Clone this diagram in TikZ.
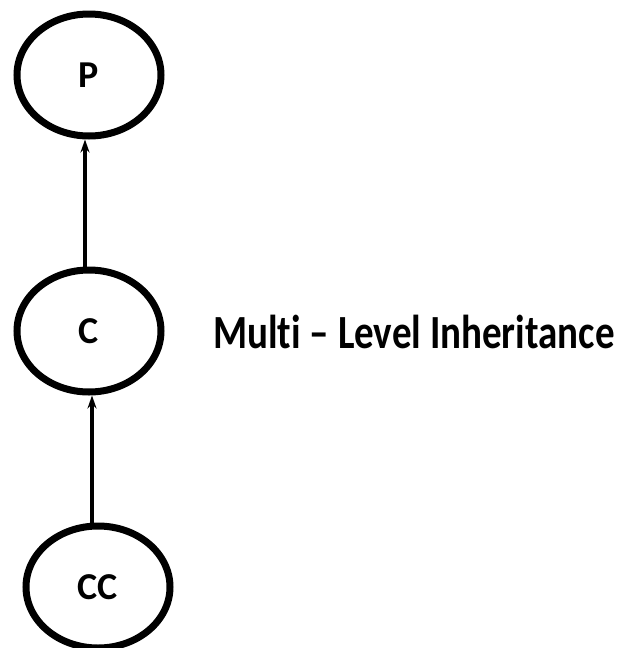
\documentclass[tikz,border=0pt]{standalone}
\usepackage{fontspec}
\setmainfont{Carlito}
\usetikzlibrary{shapes.geometric,arrows.meta}
\begin{document}
\begin{tikzpicture}[x=1pt,y=-1pt,
  cls/.style={ellipse,draw=black,line width=7pt,minimum width=144pt,minimum height=122pt,inner sep=0pt,font=\fontsize{38}{38}\selectfont\bfseries},
  inh/.style={line width=3.5pt,-{Stealth[length=13pt,width=9pt]}}]
\useasboundingbox[fill=white] (0,0) rectangle (627,648);
\node[cls] (P) at (89,75) {P};
\node[cls] (C) at (89,331) {C};
\node[cls] (CC) at (98,587) {CC};
\node[anchor=west,font=\fontsize{39}{39}\selectfont\bfseries,inner sep=0pt,yscale=1.22,transform shape] (T) at (213,332) {Mult\kern0pt i – Level Inheritance};
\draw[inh] (C.north -| 85,0) -- (P.south -| 85,0);
\draw[inh] (CC.north -| 92,0) -- (C.south -| 92,0);
\end{tikzpicture}
\end{document}
